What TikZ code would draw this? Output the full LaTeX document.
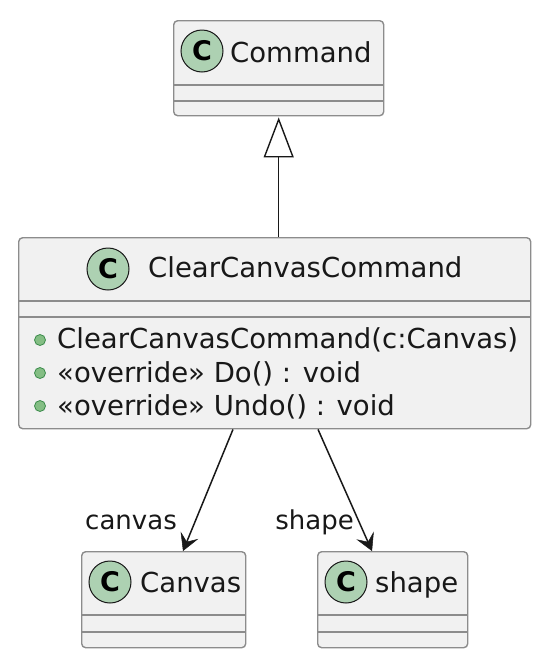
\documentclass[tikz,border=0pt]{standalone}
\usepackage{fontspec}
\setmainfont{DejaVu Sans}
\usetikzlibrary{arrows.meta}
\definecolor{boxfill}{HTML}{F1F1F1}
\definecolor{boxline}{HTML}{8C8C8C}
\definecolor{spotfill}{HTML}{ADD1B2}
\definecolor{dotfill}{HTML}{84BE84}
\definecolor{dotline}{HTML}{3C8C4C}
\definecolor{inkline}{HTML}{181818}

\begin{document}
\begin{tikzpicture}[x=1pt, y=-1pt,
    classbox/.style={draw=boxline, fill=boxfill, line width=1.4pt, rounded corners=4pt, inner sep=0pt, anchor=north west},
    sepline/.style={draw=boxline, line width=1.4pt},
    spot/.style={circle, draw=inkline, fill=spotfill, line width=1pt, minimum size=42pt, inner sep=0pt, font=\fontsize{27}{27}\selectfont\bfseries},
    txt/.style={inner sep=0pt, anchor=base west, font=\fontsize{27.5}{30}\selectfont, text=inkline},
    lbl/.style={inner sep=0pt, anchor=base east, font=\fontsize{26}{30}\selectfont, text=inkline},
    pubdot/.style={circle, draw=dotline, fill=dotfill, line width=0.8pt, minimum size=11pt, inner sep=0pt},
    assoc/.style={draw=inkline, line width=1.5pt, -{Stealth[length=17pt, width=19pt, inset=7pt, line width=0.5pt]}}]
    \useasboundingbox (0,0) rectangle (550,670);

    % classes
    \node[classbox, minimum width=210pt, minimum height=95pt] (cmd) at (173,20) {};
    \node[classbox, minimum width=512pt, minimum height=191pt] (ccc) at (18,237) {};
    \node[classbox, minimum width=164pt, minimum height=96pt] (cnv) at (81,551) {};
    \node[classbox, minimum width=150pt, minimum height=96pt] (shp) at (317,551) {};

    \draw[sepline] (cmd.west |- 0,85) -- (cmd.east |- 0,85);
    \draw[sepline] (cmd.west |- 0,101) -- (cmd.east |- 0,101);
    \draw[sepline] (ccc.west |- 0,301) -- (ccc.east |- 0,301);
    \draw[sepline] (ccc.west |- 0,317) -- (ccc.east |- 0,317);
    \draw[sepline] (cnv.west |- 0,615) -- (cnv.east |- 0,615);
    \draw[sepline] (cnv.west |- 0,632) -- (cnv.east |- 0,632);
    \draw[sepline] (shp.west |- 0,615) -- (shp.east |- 0,615);
    \draw[sepline] (shp.west |- 0,632) -- (shp.east |- 0,632);

    % headers
    \node[spot] (cmdspot) at (202,51) {C};
    \node[txt] (cmdname) at (230,62) {Command};
    \node[spot] (cccspot) at (108,269) {C};
    \node[txt] (cccname) at (148,277) {ClearCanvasCommand};
    \node[spot] (cnvspot) at (110,582) {C};
    \node[txt] (cnvname) at (140,592) {Canvas};
    \node[spot] (shpspot) at (346,582) {C};
    \node[txt] (shpname) at (375,592) {shape};

    % members
    \node[pubdot] (dot1) at (40,340) {};
    \node[txt] (op1) at (57,348) {ClearCanvasCommand(c:Canvas)};
    \node[pubdot] (dot2) at (40,373) {};
    \node[txt] (op2) at (57,382) {«override» Do() : void};
    \node[pubdot] (dot3) at (40,406) {};
    \node[txt] (op3) at (57,415) {«override» Undo() : void};

    % relations
    \draw[draw=inkline, line width=1.4pt, -{Triangle[open, length=40pt, width=30pt, line width=1.4pt]}, shorten >=1pt]
        (ccc.north -| cmd.south) -- (cmd.south);
    \draw[assoc] ([xshift=215pt]ccc.south west) -- ([xshift=102pt]cnv.north west);
    \draw[assoc] ([xshift=300pt]ccc.south west) -- ([xshift=55pt]shp.north west);
    \node[lbl] (lblcanvas) at (177,529) {canvas};
    \node[lbl] (lblshape) at (354,529) {shape};
\end{tikzpicture}
\end{document}
